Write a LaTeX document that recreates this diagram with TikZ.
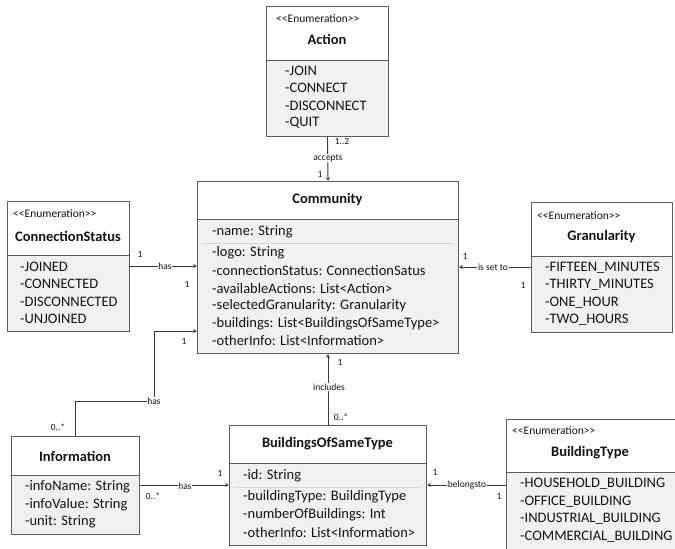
\documentclass[tikz,border=0pt]{standalone}
\usepackage{fontspec}
\setmainfont{Carlito}
\usetikzlibrary{arrows.meta,calc}
\definecolor{boxc}{HTML}{5E5E5E}
\definecolor{linec}{HTML}{3A3A3A}
\definecolor{bodyc}{HTML}{F1F1F1}
\definecolor{sepc}{HTML}{D6D6D6}
\definecolor{txtc}{HTML}{141414}
\newcommand{\itemfnt}{\fontsize{14.5}{17}\selectfont}
\newcommand{\titlefnt}{\fontsize{14.5}{17}\selectfont\bfseries}
\newcommand{\stereofnt}{\fontsize{11.5}{13}\selectfont}
\newcommand{\lblfnt}{\fontsize{9.5}{11}\selectfont}
\newcommand{\enumtag}{\textless\kern0pt\textless Enumeration\textgreater\kern0pt\textgreater}
\tikzset{
  hdr/.style={draw=boxc, fill=white, line width=1pt, anchor=north west, inner sep=0pt},
  bdy/.style={draw=boxc, fill=bodyc, line width=1pt, anchor=north west, inner sep=0pt},
  item/.style={anchor=west, inner sep=0pt, font=\itemfnt, text=txtc},
  ctitle/.style={inner sep=0pt, font=\titlefnt, text=txtc},
  stereo/.style={anchor=west, inner sep=0pt, font=\stereofnt, text=txtc},
  sepline/.style={draw=sepc, line width=0.8pt},
  assoc/.style={draw=linec, line width=0.9pt, -{Stealth[length=4pt,width=3.8pt]}},
  lbl/.style={font=\lblfnt, text=txtc, fill=white, inner sep=0.6pt},
  mult/.style={font=\lblfnt, text=txtc, inner sep=0pt},
}
\begin{document}
\begin{tikzpicture}[x=1pt,y=-1pt]
\useasboundingbox (0,0) rectangle (675,549);
\clip (0,0) rectangle (675,549);
\fill[white] (0,0) rectangle (675,549);

% ---- Action (enumeration)
\node[hdr, minimum width=122, minimum height=54] (acth) at (266,6) {};
\node[bdy, minimum width=122, minimum height=76] (actb) at (266,60) {};
\node[stereo] (acts) at (276,19) {\enumtag};
\node[ctitle] (actt) at (327,39) {Action};
\node[item] (act1) at (285,71) {-JOIN};
\node[item] (act2) at (285,88) {-CONNECT};
\node[item] (act3) at (285,106) {-DISCONNECT};
\node[item] (act4) at (285,123) {-QUIT};

% ---- Community
\node[hdr, minimum width=261, minimum height=38] (commh) at (197,181) {};
\node[bdy, minimum width=261, minimum height=134] (commb) at (197,219) {};
\node[ctitle] (commt) at (327.5,200) {Community};
\node[item] (comm1) at (212,232) {-name: String};
\draw[sepline] (202,243) -- (453,243);
\node[item] (comm2) at (212,253) {-logo: String};
\node[item] (comm3) at (212,271) {-connectionStatus: ConnectionSatus};
\node[item] (comm4) at (212,289) {-availableActions: List<Action>};
\node[item] (comm5) at (212,306) {-selectedGranularity: Granularity};
\node[item] (comm6) at (212,324) {-buildings: List<BuildingsOfSameType>};
\node[item] (comm7) at (212,341) {-otherInfo: List<Information>};

% ---- ConnectionStatus (enumeration)
\node[hdr, minimum width=122, minimum height=54] (csh) at (7,201) {};
\node[bdy, minimum width=122, minimum height=76] (csb) at (7,255) {};
\node[stereo] (css) at (13,214) {\enumtag};
\node[ctitle] (cst) at (68,236) {ConnectionStatus};
\node[item] (cs1) at (20,267) {-JOINED};
\node[item] (cs2) at (20,284) {-CONNECTED};
\node[item] (cs3) at (20,302) {-DISCONNECTED};
\node[item] (cs4) at (20,319) {-UNJOINED};

% ---- Granularity (enumeration)
\node[hdr, minimum width=141, minimum height=54] (granh) at (531,202) {};
\node[bdy, minimum width=141, minimum height=76] (granb) at (531,256) {};
\node[stereo] (grans) at (537,216) {\enumtag};
\node[ctitle] (grant) at (601.5,237) {Granularity};
\node[item] (gran1) at (545,268) {-FIFTEEN\_MINUTES};
\node[item] (gran2) at (545,285) {-THIRTY\_MINUTES};
\node[item] (gran3) at (545,303) {-ONE\_HOUR};
\node[item] (gran4) at (545,320) {-TWO\_HOURS};

% ---- Information
\node[hdr, minimum width=128, minimum height=39] (infoh) at (11,436) {};
\node[bdy, minimum width=128, minimum height=59] (infob) at (11,475) {};
\node[ctitle] (infot) at (75,456) {Information};
\node[item] (info1) at (25,487) {-infoName: String};
\node[item] (info2) at (25,505) {-infoValue: String};
\node[item] (info3) at (25,522) {-unit: String};

% ---- BuildingsOfSameType
\node[hdr, minimum width=197, minimum height=38] (bosth) at (229,425) {};
\node[bdy, minimum width=197, minimum height=82] (bostb) at (229,463) {};
\node[ctitle] (bostt) at (327.5,444) {BuildingsOfSameType};
\node[item] (bost1) at (243,476) {-id: String};
\draw[sepline] (234,487) -- (421,487);
\node[item] (bost2) at (243,497) {-buildingType: BuildingType};
\node[item] (bost3) at (243,515) {-numberOfBuildings: Int};
\node[item] (bost4) at (243,533) {-otherInfo: List<Information>};

% ---- BuildingType (enumeration), runs past the right and bottom edges
\node[hdr, minimum width=190, minimum height=53] (bth) at (506,419) {};
\node[bdy, minimum width=190, minimum height=90] (btb) at (506,472) {};
\node[stereo] (bts) at (512,431) {\enumtag};
\node[ctitle] (btt) at (590,453) {BuildingType};
\node[item] (bt1) at (520,484) {-HOUSEHOLD\_BUILDING};
\node[item] (bt2) at (520,502) {-OFFICE\_BUILDING};
\node[item] (bt3) at (520,519) {-INDUSTRIAL\_BUILDING};
\node[item] (bt4) at (520,537) {-COMMERCIAL\_BUILDING};

% ---- Associations
% Action -- Community
\draw[assoc] (actb.south) -- (commh.north);
\node[lbl] (accl) at (328,158) {accepts};
\node[mult] (accm1) at (342,141) {1..2};
\node[mult] (accm2) at (320,174) {1};

% ConnectionStatus -- Community
\draw[assoc] ($(csb.north east)+(0,11)$) coordinate (csp) -- (csp -| commb.west);
\node[lbl] (csl) at (165,266) {has};
\node[mult] (csm1) at (140,254) {1};
\node[mult] (csm2) at (187,284) {1};

% Granularity -- Community
\draw[assoc] ($(granb.north west)+(0,11)$) coordinate (grp) -- (grp -| commb.east);
\node[lbl] (grl) at (493,267) {is set to};
\node[mult] (grm1) at (465,256) {1};
\node[mult] (grm2) at (523,285) {1};

% Information -- Community
\coordinate (ik1) at (154,401);
\coordinate (ik2) at (154,331);
\draw[assoc] (infoh.north) |- (ik1) -- (ik2) -- (ik2 -| commb.west);
\node[lbl] (icl) at (ik1) {has};
\node[mult] (icm1) at (184,341) {1};
\node[mult] (icm2) at (58,427) {0..*};

% BuildingsOfSameType -- Community
\draw[assoc] (bosth.north) -- (commb.south);
\node[lbl] (bcl) at (329,387) {includes};
\node[mult] (bcm1) at (340,362) {1};
\node[mult] (bcm2) at (341,417) {0..*};

% Information -- BuildingsOfSameType
\draw[assoc] ($(infob.north east)+(0,10)$) coordinate (ibp) -- (ibp -| bostb.west);
\node[lbl] (ibl) at (185,486) {has};
\node[mult] (ibm1) at (220,473) {1};
\node[mult] (ibm2) at (153,496) {0..*};

% BuildingType -- BuildingsOfSameType
\draw[assoc] ($(btb.north west)+(0,13)$) coordinate (btp) -- (btp -| bostb.east);
\node[lbl] (btl) at (467,485) {belongsto};
\node[mult] (btm1) at (435,472) {1};
\node[mult] (btm2) at (499,496) {1};
\end{tikzpicture}
\end{document}
